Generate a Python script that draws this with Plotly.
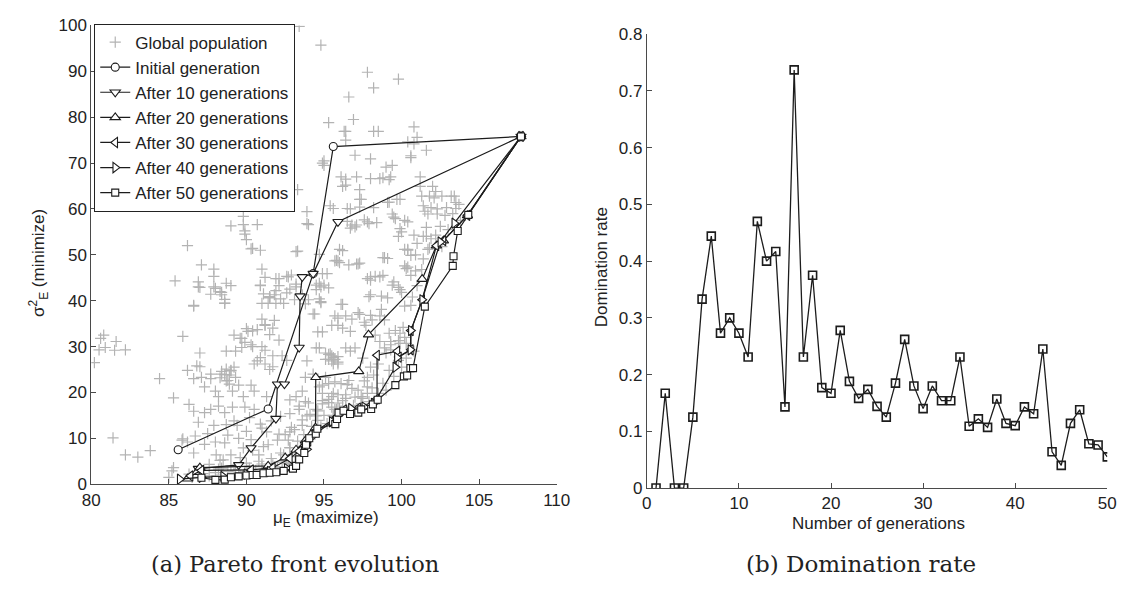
import plotly.graph_objects as go

W, H = 1136, 590

# ---------------- (a) Pareto front evolution ----------------
# global population (mu_E, sigma_E^2)
pop_points = [
    (93.4, 99.8), (94.8, 95.7), (97.8, 89.8), (99.8, 88.3), (98.2, 86.4), (96.6, 84.4), (95.3, 78.8),
    (96.9, 79.5), (96.3, 76.9), (96.4, 76.9), (98.2, 76.9), (98.5, 76.9), (100.8, 77.9), (101.0, 75.6),
    (100.4, 74.6), (100.8, 74.2), (96.4, 75.0), (101.6, 72.8), (97.0, 71.7), (98.0, 70.9), (99.0, 69.1),
    (99.4, 69.5), (100.6, 71.2), (100.6, 71.6), (95.0, 70.5), (95.0, 69.5), (94.9, 70.0), (96.1, 67.0),
    (96.4, 66.5), (98.0, 66.6), (98.6, 66.6), (99.2, 66.4), (101.2, 67.0), (97.1, 67.0), (98.8, 66.8),
    (99.3, 67.0), (96.2, 64.9), (96.4, 65.2), (97.3, 64.2), (97.3, 62.1), (97.4, 62.1), (93.3, 64.2),
    (92.4, 63.5), (92.4, 63.4), (92.7, 61.7), (92.6, 61.9), (90.7, 61.2), (93.9, 59.4), (95.6, 60.1),
    (96.5, 60.1), (97.3, 60.4), (95.4, 60.7), (96.7, 60.0), (98.2, 60.3), (99.1, 61.4), (99.9, 62.1),
    (99.7, 62.1), (99.2, 61.5), (101.3, 62.8), (101.8, 62.8), (102.2, 63.8), (102.6, 62.8), (103.2, 62.8),
    (103.5, 61.4), (103.5, 60.1), (101.4, 60.7), (101.9, 60.3), (102.3, 60.0), (102.8, 58.6), (103.3, 59.0),
    (101.2, 64.9), (102.0, 64.9), (102.1, 62.4), (103.4, 62.8), (103.7, 61.0), (102.9, 60.3), (102.3, 58.9),
    (101.7, 58.9), (101.5, 59.5), (99.4, 58.9), (99.6, 57.9), (100.4, 57.2), (99.5, 58.2), (100.2, 57.5),
    (89.8, 58.4), (89.0, 56.3), (89.8, 56.6), (89.9, 55.2), (90.7, 56.6), (94.0, 56.6), (93.9, 56.8),
    (96.5, 57.3), (97.6, 57.6), (96.8, 56.5), (97.1, 56.5), (97.8, 57.2), (98.4, 57.0), (97.9, 56.8),
    (97.0, 56.1), (96.7, 55.8), (99.9, 55.7), (100.0, 55.0), (100.8, 54.3), (101.6, 54.0), (102.2, 54.3),
    (99.8, 54.0), (101.4, 54.0), (89.9, 54.5), (90.0, 53.3), (86.2, 52.0), (90.3, 51.3), (90.4, 51.4),
    (90.9, 51.0), (93.2, 50.7), (93.3, 50.8), (94.7, 50.1), (96.2, 50.9), (96.0, 51.2), (95.8, 48.8),
    (95.7, 48.7), (95.9, 48.7), (96.0, 48.3), (97.3, 48.2), (97.2, 48.0), (97.1, 48.0), (96.6, 47.8),
    (101.8, 51.5), (100.4, 51.2), (100.6, 49.9), (98.9, 49.4), (98.8, 49.4), (99.1, 49.2), (100.2, 51.2),
    (100.4, 51.0), (101.7, 51.2), (101.4, 49.1), (100.2, 47.6), (100.3, 47.0), (100.6, 45.5), (87.1, 47.8),
    (87.9, 46.9), (87.9, 45.3), (88.7, 43.8), (91.0, 46.9), (91.2, 45.1), (90.9, 43.4), (91.9, 44.8),
    (92.1, 44.8), (92.6, 45.3), (92.9, 45.6), (92.7, 45.2), (94.9, 45.9), (95.2, 45.9), (95.0, 43.4),
    (94.7, 43.8), (94.5, 42.4), (85.4, 44.3), (86.9, 44.1), (87.0, 42.9), (87.9, 43.0), (88.0, 42.7),
    (88.3, 42.0), (88.4, 41.3), (88.6, 39.5), (86.6, 39.0), (91.5, 40.9), (91.8, 41.3), (91.5, 40.6),
    (92.2, 40.4), (92.6, 41.7), (93.1, 40.2), (94.7, 40.4), (94.8, 39.8), (98.0, 44.5), (98.3, 45.3),
    (98.0, 45.2), (98.6, 45.2), (99.5, 44.1), (100.4, 47.3), (100.9, 46.5), (99.8, 42.9), (98.0, 41.3),
    (98.7, 41.0), (97.8, 44.8), (98.8, 45.5), (99.4, 43.4), (99.9, 42.4), (100.0, 41.8), (97.9, 40.9),
    (99.1, 40.6), (100.2, 38.8), (100.6, 39.0), (96.1, 39.2), (94.8, 43.0), (95.3, 42.8), (94.0, 40.2),
    (94.4, 37.1), (94.8, 39.6), (96.4, 36.7), (96.8, 36.0), (97.3, 37.0), (97.7, 34.6), (98.0, 36.8),
    (98.6, 36.7), (98.9, 35.8), (99.2, 32.9), (99.6, 33.5), (99.9, 32.9), (100.1, 34.2), (99.3, 31.1),
    (99.9, 30.7), (100.3, 30.7), (95.9, 34.6), (96.2, 34.0), (96.7, 33.3), (94.9, 33.2), (94.5, 29.7),
    (95.1, 28.6), (95.5, 28.0), (95.7, 27.2), (95.3, 27.2), (95.5, 26.9), (95.9, 26.6), (96.4, 29.7),
    (97.0, 29.7), (96.7, 29.0), (98.3, 32.5), (98.6, 31.1), (98.9, 29.7), (99.3, 29.3), (99.0, 28.6),
    (98.5, 26.2), (98.0, 25.5), (97.5, 27.5), (97.8, 23.3), (93.9, 26.9), (93.8, 23.3), (95.3, 21.9),
    (95.7, 22.3), (96.1, 21.9), (96.5, 21.7), (94.9, 19.8), (95.6, 19.8), (96.4, 19.5), (96.8, 20.9),
    (97.2, 20.5), (97.8, 19.8), (98.1, 21.0), (97.5, 18.7), (94.0, 17.7), (94.5, 16.3), (94.9, 17.5),
    (95.3, 17.8), (93.9, 14.9),
    (93.2, 43.0), (94.5, 43.4), (96.2, 39.2), (95.7, 36.7), (97.2, 37.4), (97.6, 35.3), (98.1, 35.8),
    (98.7, 38.1), (94.6, 33.2), (95.3, 28.3), (95.6, 27.6), (95.9, 26.2), (95.1, 23.3), (94.7, 21.2),
    (96.6, 22.6), (97.8, 21.2), (97.4, 19.1), (95.9, 17.7), (95.3, 18.5), (95.7, 16.3), (94.5, 14.9),
    (93.4, 16.3), (92.8, 18.4), (93.6, 12.8), (92.8, 11.4), (92.8, 7.9), (99.3, 30.4), (99.8, 31.3),
    (100.2, 32.0),
    (88.6, 39.4), (91.0, 39.4), (91.4, 39.4), (91.9, 39.4), (92.4, 39.4), (86.6, 38.8), (91.0, 36.0),
    (91.8, 35.7), (94.3, 37.1), (91.2, 34.6), (90.0, 33.9), (90.4, 33.4), (91.7, 34.0), (89.7, 31.8),
    (89.2, 32.5), (88.7, 29.0), (89.3, 29.0), (89.7, 29.8), (90.3, 30.4), (91.0, 30.0), (90.9, 27.6),
    (90.5, 26.2), (91.2, 26.2), (91.7, 25.6), (85.9, 32.2), (86.8, 25.8), (86.2, 24.8), (84.4, 23.0),
    (85.3, 18.8), (86.3, 17.4), (87.1, 23.3), (87.7, 24.0), (88.4, 24.0), (88.7, 25.1), (89.0, 24.8),
    (89.3, 23.3), (88.8, 22.6), (88.4, 24.6), (88.9, 23.8), (87.3, 21.2), (88.0, 20.3), (88.2, 19.1),
    (89.1, 20.3), (89.5, 21.6), (90.3, 21.6), (89.8, 19.1), (90.5, 20.3), (91.3, 19.1), (86.6, 15.9),
    (87.3, 15.6), (86.9, 13.5), (87.7, 16.3), (88.2, 17.0), (88.6, 15.6), (89.1, 16.8), (89.2, 13.8),
    (89.9, 16.8), (90.5, 16.3), (90.2, 14.5), (90.9, 13.1), (86.2, 9.2), (85.9, 9.9), (86.6, 6.8),
    (87.3, 8.7), (88.0, 9.2), (88.6, 9.0), (88.8, 10.7), (89.5, 10.0), (89.8, 7.9), (88.05, 6.4),
    (88.5, 5.3), (89.0, 6.4), (90.8, 6.4), (91.1, 8.2), (91.3, 11.4), (92.1, 10.9), (92.9, 12.4),
    (92.7, 9.6), (92.4, 6.4), (85.3, 3.6), (85.0, 1.5), (86.3, 2.2), (87.6, 4.3), (88.4, 3.5),
    (89.3, 3.0), (90.1, 3.0), (91.0, 3.8), (91.8, 3.8), (92.7, 4.5), (93.2, 19.1), (93.6, 20.3),
    (93.8, 18.0), (94.3, 24.0), (94.9, 21.6), (95.1, 27.2), (95.6, 26.2), (95.9, 27.8), (95.4, 28.4),
    (94.7, 29.7), (95.5, 34.6), (95.9, 36.2), (95.5, 19.1), (95.9, 19.5), (96.4, 18.7), (95.8, 16.3),
    (94.9, 18.2), (95.6, 15.0),
    (80.8, 32.5), (80.6, 31.8), (80.5, 29.3), (80.9, 29.8), (81.6, 31.1), (81.5, 29.2), (82.2, 29.3),
    (80.2, 26.5), (81.4, 10.1), (82.2, 6.4), (83.0, 5.9), (83.8, 7.3), (85.2, 2.9), (87.0, 28.6),
    (87.0, 25.6), (86.6, 23.0), (87.7, 23.0), (88.3, 23.2), (88.6, 23.9), (89.0, 24.7), (88.7, 22.5),
    (89.2, 25.5), (88.9, 21.8), (85.85, 9.6),
    (86.9, 43.0), (87.7, 41.4), (88.4, 41.8), (88.6, 40.3), (89.0, 43.3), (90.9, 43.3), (91.1, 41.5),
    (91.5, 40.7), (91.9, 42.2), (92.1, 43.3), (92.8, 42.5), (93.2, 43.6), (93.6, 41.3), (93.8, 39.3),
    (89.6, 31.8), (90.1, 33.3), (89.9, 30.9), (90.7, 33.7), (90.4, 30.0), (91.2, 34.8), (91.5, 32.6),
    (92.1, 31.4), (91.2, 29.2), (91.7, 28.0), (92.3, 28.0), (92.6, 27.0), (90.7, 26.9), (91.5, 25.0),
    (86.5, 1.5), (87.2, 2.3), (87.6, 1.8), (88.0, 2.5), (88.4, 2.0), (88.8, 2.8), (89.2, 2.4),
    (89.5, 3.2), (89.9, 2.8), (90.2, 3.5), (90.6, 3.0), (91.0, 4.4), (91.3, 3.2), (91.7, 4.2),
    (92.0, 3.6), (92.3, 4.8), (92.6, 5.2), (92.9, 6.0), (93.2, 6.8), (93.5, 7.6), (93.8, 8.8),
    (94.1, 9.8), (94.4, 11.5), (94.8, 12.5), (95.2, 13.2), (95.6, 14.8), (96.0, 16.5), (96.4, 17.0),
    (96.9, 17.2), (97.4, 17.5), (97.9, 18.0), (87.0, 3.0), (88.2, 3.3), (89.0, 4.0), (90.0, 4.6),
    (90.8, 5.0), (91.6, 5.6), (92.2, 6.8), (92.8, 8.0), (93.3, 9.4), (93.7, 10.8), (94.2, 12.6),
    (94.6, 13.9), (95.0, 15.0), (95.5, 16.8), (96.2, 18.2), (97.0, 19.0), (98.5, 19.8), (99.0, 20.5),
    (99.5, 23.5), (100.0, 25.5), (99.2, 24.8), (99.8, 27.0), (100.3, 27.5), (100.8, 29.0), (98.8, 22.0),
    (97.6, 22.5), (98.2, 23.8), (88.3, 5.2), (89.6, 5.8), (90.4, 7.4), (91.4, 8.6), (92.0, 9.6),
    (92.5, 10.8), (93.1, 11.9), (93.6, 14.0), (94.1, 15.2), (94.6, 16.0), (90.0, 11.5), (91.0, 12.2),
    (91.6, 13.8), (92.2, 14.8), (92.8, 15.4), (93.4, 17.0), (89.4, 12.8), (90.3, 9.7), (87.5, 11.0),
    (86.7, 10.5), (87.9, 12.8), (88.7, 13.0),
    (101.6, 56.0), (102.5, 56.2), (103.0, 55.5), (103.8, 57.5), (101.0, 52.5), (100.9, 50.0),
    (101.9, 53.5), (102.6, 51.8), (101.0, 43.3), (100.7, 40.8), (101.3, 46.8),
]
pop_mu = [p[0] for p in pop_points]
pop_var = [p[1] for p in pop_points]

# Pareto fronts at selected generations
gen0_mu = [85.6, 91.4, 94.3, 95.6, 107.7]
gen0_var = [7.5, 16.4, 45.9, 73.6, 75.8]

gen10_mu = [86.9, 89.5, 90.3, 91.9, 92.0, 92.45, 93.4, 93.46, 93.6, 94.3, 95.9, 107.7]
gen10_var = [3.4, 4.2, 7.9, 14.3, 21.8, 21.8, 29.8, 41.0, 45.2, 45.9, 57.2, 75.8]

gen20_mu = [86.2, 86.8, 87.0, 91.4, 92.5, 93.2, 93.8, 94.2, 94.45, 94.47, 97.24, 97.87,
            101.33, 102.25, 102.7, 104.25, 107.7]
gen20_var = [1.2, 2.6, 3.6, 4.0, 5.8, 7.5, 9.5, 11.0, 12.3, 23.3, 24.6, 32.6,
             44.7, 52.0, 53.1, 58.6, 75.8]

gen30_mu = [86.4, 87.1, 90.3, 91.7, 92.8, 93.4, 94.0, 94.5, 95.8, 96.3, 97.2, 98.0, 98.42,
            98.42, 99.73, 99.83, 100.6, 100.6, 101.33, 102.25, 102.7, 104.25, 107.7]
gen30_var = [1.8, 3.0, 3.1, 3.6, 5.6, 7.2, 9.4, 11.6, 14.6, 16.2, 16.6, 17.2, 18.6,
             28.1, 29.0, 27.7, 29.3, 33.5, 40.2, 52.0, 53.1, 58.6, 75.8]

gen40_mu = [85.7, 87.1, 88.5, 90.0, 91.5, 92.6, 93.3, 93.9, 94.4, 95.5, 96.0, 96.74, 97.6,
            98.2, 99.6, 99.7, 100.57, 100.6, 101.33, 102.5, 103.4, 107.7]
gen40_var = [1.1, 1.5, 1.7, 2.2, 2.8, 3.4, 5.0, 7.6, 10.8, 13.6, 15.2, 16.5, 16.8,
             17.6, 25.5, 27.6, 29.3, 33.5, 40.2, 52.8, 56.9, 75.8]

gen50_mu = [87.1, 88.0, 88.6, 89.0, 89.5, 90.0, 90.4, 90.66, 91.1, 91.5, 91.93, 92.4, 93.0,
            93.2, 93.4, 93.73, 93.84, 94.05, 94.47, 94.57, 95.73, 95.84, 95.94, 96.26, 96.68,
            97.21, 97.4, 98.04, 98.15, 98.46, 99.6, 100.15, 100.36, 100.57, 100.74, 101.5,
            103.3, 103.35, 103.62, 104.3, 107.7]
gen50_var = [1.4, 0.95, 1.0, 1.5, 1.7, 1.9, 2.0, 2.0, 2.4, 2.5, 2.6, 2.9, 3.4,
             4.0, 5.4, 6.8, 8.6, 10.0, 11.0, 12.1, 13.1, 14.2, 15.6, 16.0, 15.3,
             15.6, 16.3, 16.4, 17.4, 18.4, 21.6, 23.5, 23.7, 25.3, 25.3, 38.7,
             47.6, 49.7, 55.2, 58.7, 75.8]

front_names = ["Initial generation", "After 10 generations", "After 20 generations",
               "After 30 generations", "After 40 generations", "After 50 generations"]
front_symbols = ["circle", "triangle-down", "triangle-up", "triangle-left",
                 "triangle-right", "square"]
fronts = [(gen0_mu, gen0_var), (gen10_mu, gen10_var), (gen20_mu, gen20_var),
          (gen30_mu, gen30_var), (gen40_mu, gen40_var), (gen50_mu, gen50_var)]

# ---------------- (b) Domination rate ----------------
generations = list(range(1, 51))
domination_rate = [
    0.0, 0.167, 0.0, 0.0, 0.125, 0.333, 0.444, 0.273, 0.300, 0.273,
    0.231, 0.470, 0.400, 0.417, 0.143, 0.737, 0.231, 0.375, 0.177, 0.167,
    0.278, 0.188, 0.158, 0.174, 0.144, 0.125, 0.185, 0.262, 0.180, 0.140,
    0.180, 0.154, 0.154, 0.231, 0.109, 0.122, 0.107, 0.157, 0.114, 0.110,
    0.143, 0.131, 0.245, 0.064, 0.040, 0.114, 0.138, 0.078, 0.076, 0.055,
]

INK = "#1c1c1c"
AXIS = "#4a4a4a"
TEXT = "#222"
SANS = "Liberation Sans, Arial, sans-serif"
SERIF = "DejaVu Serif, serif"

fig = go.Figure()

fig.add_trace(go.Scatter(
    x=pop_mu, y=pop_var, mode="markers", name="Global population",
    marker=dict(symbol="cross-thin", size=8, color="#b3b3b3",
                line=dict(width=1.2, color="#b3b3b3")),
    xaxis="x", yaxis="y",
))

for (mx, vy), name, sym in zip(fronts, front_names, front_symbols):
    size = {"circle": 8, "square": 7}.get(sym, 9)
    fig.add_trace(go.Scatter(
        x=mx, y=vy, mode="lines+markers", name=name,
        line=dict(color=INK, width=1.2),
        marker=dict(symbol=sym, size=size, color="white",
                    line=dict(color=INK, width=1.1)),
        xaxis="x", yaxis="y",
    ))

fig.add_trace(go.Scatter(
    x=generations, y=domination_rate, mode="lines+markers", showlegend=False,
    line=dict(color=INK, width=1.3),
    marker=dict(symbol="square-open", size=8, color=INK, line=dict(width=1.6)),
    xaxis="x2", yaxis="y2",
))


def px_x(p):
    return p / W


def px_y(p):
    return (H - p) / H


axis_common = dict(
    showgrid=False, zeroline=False, showline=True, linecolor=AXIS, linewidth=1,
    ticks="inside", ticklen=5, tickcolor=AXIS, tickwidth=1,
    tickfont=dict(family=SANS, size=17, color=TEXT), mirror=False,
)

fig.update_layout(
    width=W, height=H,
    margin=dict(l=0, r=0, t=0, b=0),
    paper_bgcolor="white", plot_bgcolor="white",
    xaxis=dict(domain=[px_x(84), px_x(559)], range=[80, 110], tickmode="array",
               tickvals=[80, 85, 90, 95, 100, 105, 110], anchor="y", **axis_common),
    yaxis=dict(domain=[px_y(491), px_y(17)], range=[0, 100], tickmode="array",
               tickvals=list(range(0, 101, 10)), anchor="x", **axis_common),
    xaxis2=dict(domain=[px_x(651), px_x(1121)], range=[0, 50], tickmode="array",
                tickvals=[0, 10, 20, 30, 40, 50], anchor="y2", **axis_common),
    yaxis2=dict(domain=[px_y(495), px_y(26)], range=[0, 0.8], tickmode="array",
                tickvals=[0, 0.1, 0.2, 0.3, 0.4, 0.5, 0.6, 0.7, 0.8],
                ticktext=["0", "0.1", "0.2", "0.3", "0.4", "0.5", "0.6", "0.7", "0.8"],
                anchor="x2", **axis_common),
    legend=dict(x=px_x(87), y=px_y(15), xanchor="left", yanchor="top",
                bgcolor="white", bordercolor=TEXT, borderwidth=1,
                font=dict(family=SANS, size=17, color=TEXT),
                tracegroupgap=0, itemsizing="trace"),
    showlegend=True,
)

annotations = [
    dict(text="σ<sup>2</sup><sub>E</sub> (minimize)", x=px_x(30), y=px_y(262),
         textangle=-90, font=dict(family=SANS, size=17, color=TEXT)),
    dict(text="μ<sub>E</sub> (maximize)", x=px_x(324), y=px_y(527),
         font=dict(family=SANS, size=17, color=TEXT)),
    dict(text="Domination rate", x=px_x(605), y=px_y(267), textangle=-90,
         font=dict(family=SANS, size=17, color=TEXT)),
    dict(text="Number of generations", x=px_x(887), y=px_y(532),
         font=dict(family=SANS, size=17, color=TEXT)),
    dict(text="(a) Pareto front evolution", x=px_x(292), y=px_y(573),
         font=dict(family=SERIF, size=22.5, color=TEXT)),
    dict(text="(b) Domination rate", x=px_x(870), y=px_y(573),
         font=dict(family=SERIF, size=23, color=TEXT)),
]
for a in annotations:
    a.update(xref="paper", yref="paper", showarrow=False, xanchor="center", yanchor="middle")
fig.update_layout(annotations=annotations)

fig.write_html("out.html")
